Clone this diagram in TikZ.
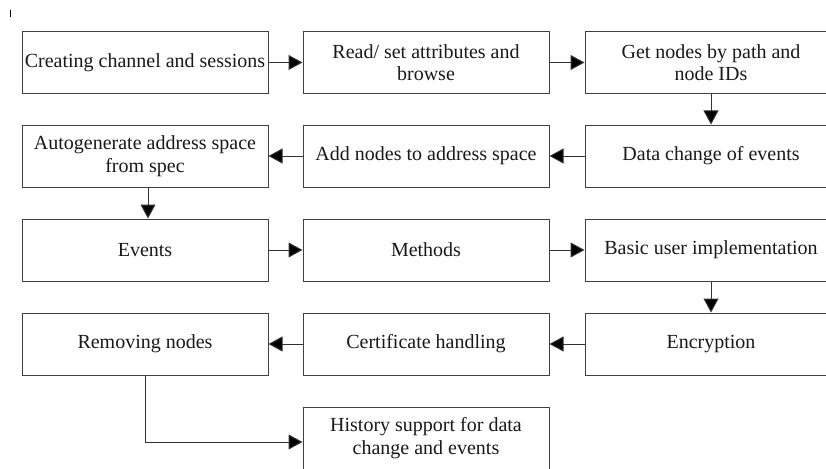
\documentclass[tikz,border=0pt]{standalone}
\usepackage{fontspec}
\setmainfont{Liberation Serif}
\usetikzlibrary{arrows.meta}
\begin{document}
\begin{tikzpicture}[x=1pt,y=-1pt,
  box/.style={draw=black!75, line width=1pt, minimum width=246pt, minimum height=62pt,
    inner sep=0pt, align=center, font=\fontsize{20}{22.5}\selectfont, text=black!90},
  conn/.style={draw=black!80, line width=1pt, -{Triangle[length=14pt,width=15pt,fill=black]}}]
\useasboundingbox (0,0) rectangle (826,468);
\clip (0,0) rectangle (826,468);
\fill[white] (0,0) rectangle (826,468);
\draw[black, line width=1.5pt] (10.5,10) -- (10.5,17);
% column centres: 145, 426, 711 ; row centres: 62.5, 156, 250, 344, 438
\node[box] (a1) at (145,62.5) {Creating channel and sessions};
\node[box] (a2) at (426,62.5) {Read/ set attributes and\\browse};
\node[box, minimum width=252pt] (a3) at (711,62.5) {Get nodes by path and\\node IDs};
\node[box, minimum width=252pt] (b3) at (711,156) {Data change of events};
\node[box] (b2) at (426,156) {Add nodes to address space};
\node[box] (b1) at (145,156) {Autogenerate address space\\from spec};
\node[box] (c1) at (145,250) {Events};
\node[box] (c2) at (426,250) {Methods};
\node[box, minimum width=252pt] (c3) at (711,250) {Basic user implementation};
\node[box, minimum width=252pt] (d3) at (711,344) {Encryption};
\node[box] (d2) at (426,344) {Certificate handling};
\node[box] (d1) at (145,344) {Removing nodes};
\node[box] (e2) at (426,438) {History support for data\\change and events};
\draw[conn] (a1) -- (a2);
\draw[conn] (a2) -- (a3);
\draw[conn] (a3) -- (b3);
\draw[conn] (b3) -- (b2);
\draw[conn] (b2) -- (b1);
\draw[conn] (b1.south -| 148,0) -- (c1.north -| 148,0);
\draw[conn] (c1) -- (c2);
\draw[conn] (c2) -- (c3);
\draw[conn] (c3) -- (d3);
\draw[conn] (d3) -- (d2);
\draw[conn] (d2) -- (d1);
\coordinate (k) at (145,442);
\draw[conn] (d1.south) -- (k) -- (e2.west |- k);
\end{tikzpicture}
\end{document}
